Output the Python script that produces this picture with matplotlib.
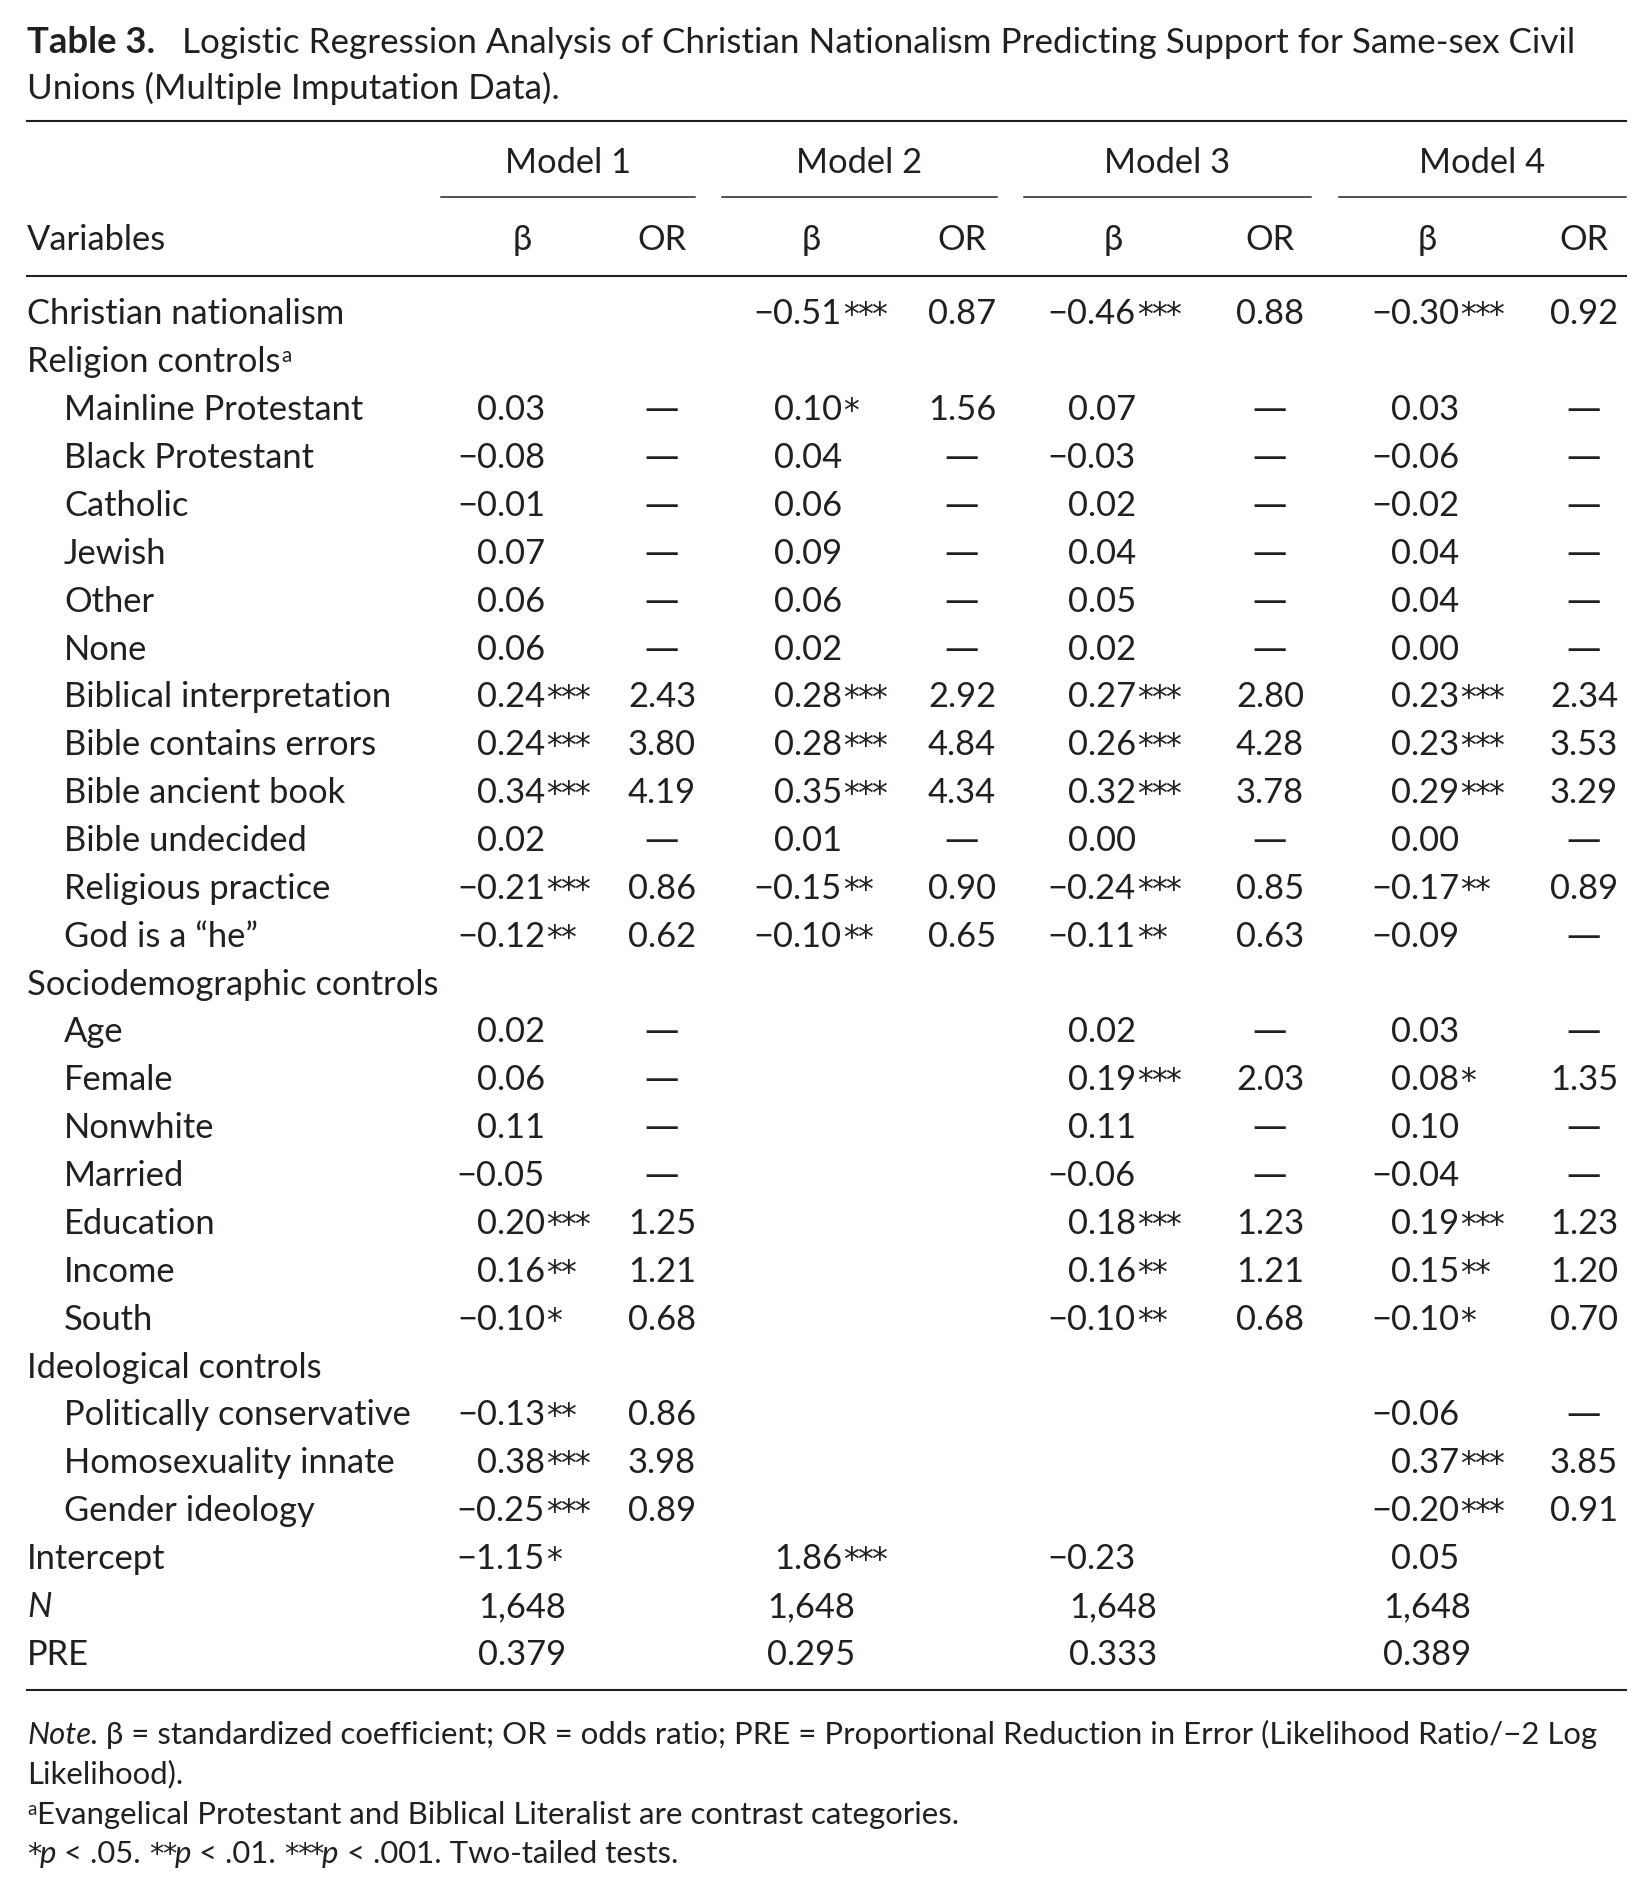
import matplotlib
matplotlib.use('Agg')
import matplotlib.pyplot as plt

plt.rcParams['font.family'] = ['Lato', 'DejaVu Sans']
INK = '#231f20'

# ---- data ----
labels = ['Christian nationalism', 'Religion controls', 'Mainline Protestant',
          'Black Protestant', 'Catholic', 'Jewish', 'Other', 'None',
          'Biblical interpretation', 'Bible contains errors', 'Bible ancient book',
          'Bible undecided', 'Religious practice', 'God is a \u201che\u201d',
          'Sociodemographic controls', 'Age', 'Female', 'Nonwhite', 'Married',
          'Education', 'Income', 'South', 'Ideological controls',
          'Politically conservative', 'Homosexuality innate', 'Gender ideology']
indent = [0, 0, 1, 1, 1, 1, 1, 1, 1, 1, 1, 1, 1, 1,
          0, 1, 1, 1, 1, 1, 1, 1, 0, 1, 1, 1]
footnote_a = ['Religion controls']

D = '\u2014'
beta_m1 = [None, None, 0.03, -0.08, -0.01, 0.07, 0.06, 0.06, 0.24, 0.24, 0.34, 0.02, -0.21, -0.12,
           None, 0.02, 0.06, 0.11, -0.05, 0.20, 0.16, -0.10, None, -0.13, 0.38, -0.25]
star_m1 = [0, 0, 0, 0, 0, 0, 0, 0, 3, 3, 3, 0, 3, 2,
           0, 0, 0, 0, 0, 3, 2, 1, 0, 2, 3, 3]
or_m1 = [None, None, D, D, D, D, D, D, 2.43, 3.80, 4.19, D, 0.86, 0.62,
         None, D, D, D, D, 1.25, 1.21, 0.68, None, 0.86, 3.98, 0.89]

beta_m2 = [-0.51, None, 0.10, 0.04, 0.06, 0.09, 0.06, 0.02, 0.28, 0.28, 0.35, 0.01, -0.15, -0.10,
           None, None, None, None, None, None, None, None, None, None, None, None]
star_m2 = [3, 0, 1, 0, 0, 0, 0, 0, 3, 3, 3, 0, 2, 2,
           0, 0, 0, 0, 0, 0, 0, 0, 0, 0, 0, 0]
or_m2 = [0.87, None, 1.56, D, D, D, D, D, 2.92, 4.84, 4.34, D, 0.90, 0.65,
         None, None, None, None, None, None, None, None, None, None, None, None]

beta_m3 = [-0.46, None, 0.07, -0.03, 0.02, 0.04, 0.05, 0.02, 0.27, 0.26, 0.32, 0.00, -0.24, -0.11,
           None, 0.02, 0.19, 0.11, -0.06, 0.18, 0.16, -0.10, None, None, None, None]
star_m3 = [3, 0, 0, 0, 0, 0, 0, 0, 3, 3, 3, 0, 3, 2,
           0, 0, 3, 0, 0, 3, 2, 2, 0, 0, 0, 0]
or_m3 = [0.88, None, D, D, D, D, D, D, 2.80, 4.28, 3.78, D, 0.85, 0.63,
         None, D, 2.03, D, D, 1.23, 1.21, 0.68, None, None, None, None]

beta_m4 = [-0.30, None, 0.03, -0.06, -0.02, 0.04, 0.04, 0.00, 0.23, 0.23, 0.29, 0.00, -0.17, -0.09,
           None, 0.03, 0.08, 0.10, -0.04, 0.19, 0.15, -0.10, None, -0.06, 0.37, -0.20]
star_m4 = [3, 0, 0, 0, 0, 0, 0, 0, 3, 3, 3, 0, 2, 0,
           0, 0, 1, 0, 0, 3, 2, 1, 0, 0, 3, 3]
or_m4 = [0.92, None, D, D, D, D, D, D, 2.34, 3.53, 3.29, D, 0.89, D,
         None, D, 1.35, D, D, 1.23, 1.20, 0.70, None, D, 3.85, 0.91]

models = ['Model 1', 'Model 2', 'Model 3', 'Model 4']
intercept = [-1.15, 1.86, -0.23, 0.05]
intercept_star = [1, 3, 0, 0]
n_obs = [1648, 1648, 1648, 1648]
pre = [0.379, 0.295, 0.333, 0.389]

betas = [beta_m1, beta_m2, beta_m3, beta_m4]
stars = [star_m1, star_m2, star_m3, star_m4]
ors = [or_m1, or_m2, or_m3, or_m4]

# ---- layout (pixels) ----
W, H = 1651, 1895
fig = plt.figure(figsize=(W / 100, H / 100), dpi=100)
ax = fig.add_axes([0, 0, 1, 1])
ax.set_xlim(0, W)
ax.set_ylim(H, 0)
ax.axis('off')
rend = fig.canvas.get_renderer()

x_left, x_right = 27, 1626
x_ind = 64
beta_right = [545, 842, 1136, 1459]
beta_mid = [522, 811, 1113, 1427]
or_mid = [662, 962, 1270, 1584]
under = [(441, 695), (722, 997), (1024, 1311), (1339, 1626)]
y_row0, pitch = 312, 47.87


def text_w(s, size, **kw):
    t = ax.text(0, 0, s, fontsize=size, **kw)
    w = t.get_window_extent(rend).width
    t.remove()
    return w


def fit(s, target, **kw):
    return 20 * target / text_w(s, 20, **kw)


fs = fit('Christian nationalism', 318)
fs_title = fit('Logistic Regression Analysis of Christian Nationalism Predicting Support for Same-sex Civil', 1395)
fs_note = fit('\u03b2 = standardized coefficient; OR = odds ratio; PRE = Proportional Reduction in Error (Likelihood Ratio/\u22122 Log', 1490)


def em(size):
    return size * 100 / 72


def put(x, yc, s, size, ha='left', **kw):
    # yc = visual middle of capitals
    return ax.text(x, yc + 0.36 * em(size), s, fontsize=size, ha=ha, va='baseline', color=INK, **kw)


def star_marks(x, yc, k, size):
    # significance stars, drawn one by one so they sit close together
    step = 0.41 * em(size)
    for j in range(k):
        ax.text(x + j * step, yc + 0.36 * em(size), '*', fontsize=size * 0.92,
                family='DejaVu Sans', ha='left', va='baseline', color=INK)
    return x + k * step


def runs(x, yc, parts, size):
    # parts: (text, style dict, gap after in px)
    for s, kw, gap in parts:
        kw = dict(kw)
        if kw.pop('stars', False):
            x = star_marks(x, yc, len(s), size) + gap
            continue
        sz = size * kw.pop('scale', 1)
        rise = kw.pop('rise', 0) * em(size)
        t = ax.text(x, yc + 0.36 * em(size) - rise, s, fontsize=sz, ha='left',
                    va='baseline', color=INK, **kw)
        x += t.get_window_extent(rend).width + gap


def fmt(v, nd=2):
    return f'{v:.{nd}f}'.replace('-', '\u2212')


# title
runs(x_left, 40, [('Table 3.', dict(weight='bold', scale=1.04), 0.75 * em(fs_title)),
                  ('Logistic Regression Analysis of Christian Nationalism Predicting Support for Same-sex Civil', {}, 0)],
     fs_title)
put(x_left, 86, 'Unions (Multiple Imputation Data).', fs_title)

# rules
ax.plot([x_left, x_right], [121, 121], color=INK, lw=1.5)
ax.plot([x_left, x_right], [276, 276], color=INK, lw=1.5)
ax.plot([x_left, x_right], [1690, 1690], color=INK, lw=1.5)
for (a, b) in under:
    ax.plot([a, b], [197, 197], color=INK, lw=1.1)

# header
for m, name in enumerate(models):
    put((under[m][0] + under[m][1]) / 2, 161, name, fs, ha='center')
    put(beta_mid[m], 238, '\u03b2', fs, ha='center')
    put(or_mid[m], 238, 'OR', fs, ha='center')
put(x_left, 238, 'Variables', fs)

# body
for i, lab in enumerate(labels):
    y = y_row0 + i * pitch
    x0 = x_ind if indent[i] else x_left
    if lab in footnote_a:
        runs(x0, y, [(lab, {}, 1), ('a', dict(scale=0.6, rise=0.3), 0)], fs)
    else:
        put(x0, y, lab, fs)
    for m in range(4):
        b = betas[m][i]
        if b is not None:
            put(beta_right[m], y, fmt(b), fs, ha='right')
            star_marks(beta_right[m] + 1, y, stars[m][i], fs)
        o = ors[m][i]
        if o is None:
            continue
        if isinstance(o, str):
            put(or_mid[m], y, o, fs, ha='center', family='DejaVu Sans')
        else:
            put(or_mid[m], y, fmt(o), fs, ha='center')

# bottom rows
n = len(labels)
y_int, y_n, y_pre = [y_row0 + (n + k) * pitch for k in range(3)]
put(x_left, y_int, 'Intercept', fs)
put(x_left, y_n, 'N', fs, style='italic')
put(x_left, y_pre, 'PRE', fs)
for m in range(4):
    put(beta_right[m], y_int, fmt(intercept[m]), fs, ha='right')
    star_marks(beta_right[m] + 1, y_int, intercept_star[m], fs)
    put(beta_mid[m], y_n, f'{n_obs[m]:,}', fs, ha='center')
    put(beta_mid[m], y_pre, fmt(pre[m], 3), fs, ha='center')

# notes
nsp = 0.26 * em(fs_note)
NS = dict(stars=True)
runs(x_left, 1733, [('Note.', dict(style='italic'), nsp),
                    ('\u03b2 = standardized coefficient; OR = odds ratio; PRE = Proportional Reduction in Error (Likelihood Ratio/\u22122 Log', {}, 0)],
     fs_note)
put(x_left, 1772, 'Likelihood).', fs_note)
runs(x_left, 1813, [('a', dict(scale=0.6, rise=0.3), 1),
                    ('Evangelical Protestant and Biblical Literalist are contrast categories.', {}, 0)], fs_note)
runs(x_left, 1852, [('*', NS, 0), ('p', dict(style='italic'), nsp), ('< .05.', {}, nsp),
                    ('**', NS, 0), ('p', dict(style='italic'), nsp), ('< .01.', {}, nsp),
                    ('***', NS, 0), ('p', dict(style='italic'), nsp), ('< .001. Two-tailed tests.', {}, 0)],
     fs_note)

fig.savefig('out.png', dpi=100, facecolor='white')
